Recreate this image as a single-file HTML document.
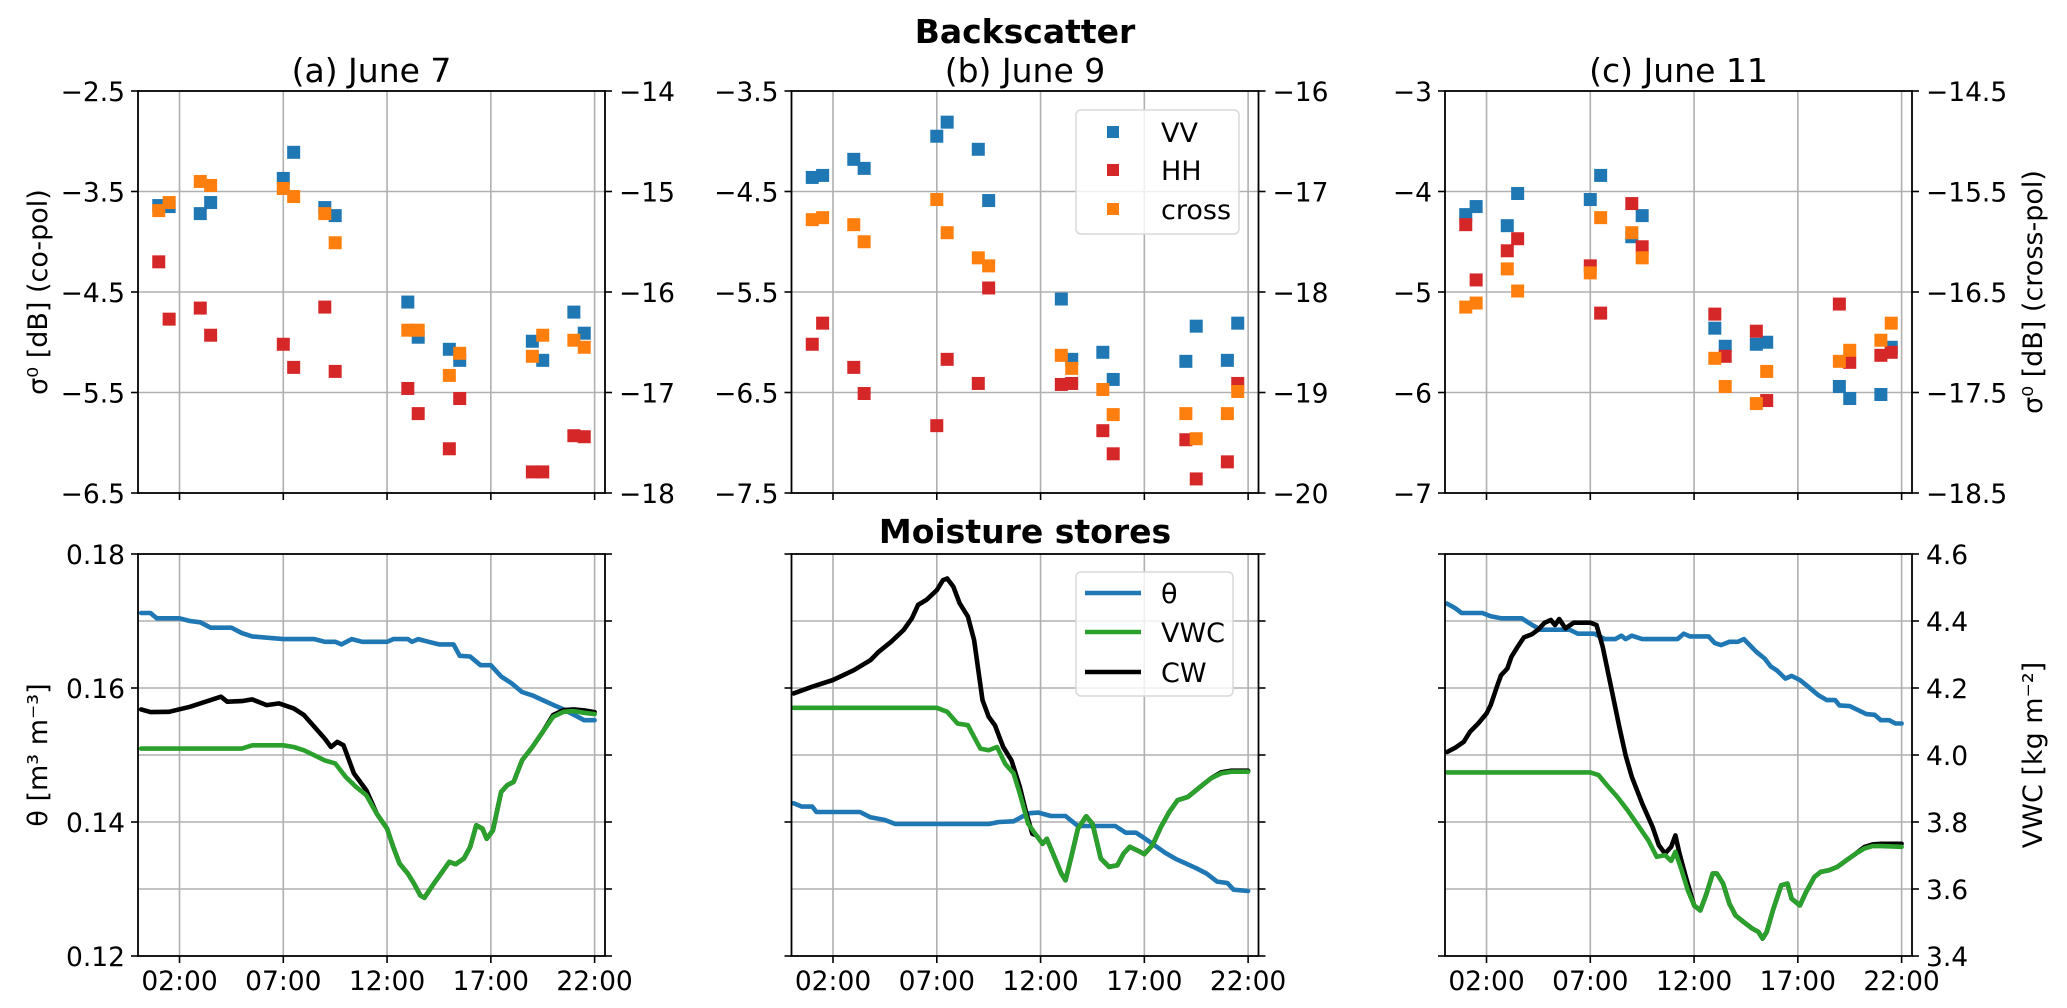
<!DOCTYPE html>
<html><head><meta charset="utf-8">
<style>
html,body{margin:0;padding:0;background:#fff;}
svg{display:block;font-family:"DejaVu Sans","Liberation Sans",sans-serif;}
</style></head>
<body>
<svg id="fig" width="2067" height="1008" viewBox="0 0 2067 1008" xmlns="http://www.w3.org/2000/svg">
<text x="1025" y="43" font-size="33" font-weight="bold" text-anchor="middle">Backscatter</text>
<text x="1025" y="543" font-size="33" font-weight="bold" text-anchor="middle">Moisture stores</text>
</svg>
<script>
// ---------- data ----------
const obsHours = [1,1.5,3,3.5,7,7.5,9,9.5,13,13.5,15,15.5,19,19.5,21,21.5];
const vvA = [-3.64,-3.65,-3.72,-3.61,-3.37,-3.11,-3.66,-3.74,-4.60,-4.95,-5.07,-5.18,-4.99,-5.18,-4.70,-4.91];
const hhA = [-4.20,-4.77,-4.66,-4.93,-5.02,-5.25,-4.65,-5.29,-5.46,-5.71,-6.06,-5.56,-6.29,-6.29,-5.93,-5.94];
const crossA = [-15.19,-15.11,-14.90,-14.94,-14.97,-15.05,-15.22,-15.51,-16.38,-16.38,-16.83,-16.61,-16.64,-16.43,-16.48,-16.55];
const vvB = [-4.36,-4.34,-4.18,-4.27,-3.95,-3.81,-4.08,-4.59,-5.57,-6.17,-6.10,-6.37,-6.19,-5.84,-6.18,-5.81];
const hhB = [-6.02,-5.81,-6.25,-6.51,-6.83,-6.17,-6.41,-5.46,-6.42,-6.41,-6.88,-7.11,-6.97,-7.36,-7.19,-6.41];
const crossB = [-17.28,-17.26,-17.33,-17.50,-17.08,-17.41,-17.66,-17.74,-18.63,-18.76,-18.97,-19.22,-19.21,-19.46,-19.21,-18.99];
const vvC = [-4.23,-4.15,-4.34,-4.02,-4.08,-3.84,-4.45,-4.24,-5.36,-5.54,-5.52,-5.50,-5.94,-6.06,-6.02,-5.55];
const hhC = [-4.33,-4.88,-4.59,-4.47,-4.74,-5.21,-4.12,-4.55,-5.22,-5.64,-5.39,-6.08,-5.12,-5.70,-5.63,-5.60];
const crossC = [-16.65,-16.61,-16.27,-16.49,-16.31,-15.76,-15.91,-16.16,-17.16,-17.44,-17.61,-17.29,-17.19,-17.08,-16.98,-16.81];

const thetaHoursA = [0.15,0.6,0.9,2,2.5,3,3.5,4.5,5,5.5,7,8.5,9,9.5,9.8,10.3,10.8,12,12.3,13,13.2,13.5,14,14.5,15.2,15.5,16,16.5,17,17.5,18,18.5,19,19.5,20,20.5,21,21.5,22];
const thetaA = [0.1712,0.1712,0.1704,0.1704,0.1700,0.1698,0.1690,0.1690,0.1682,0.1677,0.1673,0.1673,0.1669,0.1669,0.1665,0.1673,0.1669,0.1669,0.1673,0.1673,0.1669,0.1673,0.1669,0.1665,0.1665,0.1648,0.1647,0.1634,0.1634,0.1617,0.1607,0.1594,0.1589,0.1582,0.1575,0.1568,0.1560,0.1552,0.1552];
const vwcHoursA = [0.15,5,5.5,7,7.5,8,8.5,9,9.5,10,10.5,11,11.5,12,12.3,12.6,13,13.3,13.6,13.8,14.2,14.6,15,15.3,15.7,16,16.3,16.6,16.8,17.1,17.5,17.8,18.1,18.5,19,19.5,20,20.5,21,21.5,22];
const vwcA = [4.019,4.019,4.029,4.029,4.024,4.014,3.999,3.984,3.975,3.935,3.905,3.880,3.825,3.780,3.725,3.676,3.646,3.616,3.581,3.574,3.611,3.646,3.681,3.674,3.691,3.725,3.790,3.780,3.750,3.775,3.890,3.910,3.920,3.984,4.024,4.069,4.114,4.129,4.131,4.126,4.122];
const cwHoursA = [0.15,0.6,1.5,2.5,3.5,4,4.3,5,5.5,6.2,6.8,7.5,8,8.5,9,9.3,9.6,9.9,10.4,11,11.5,12,12.3,12.6,13,13.3,13.6,13.8,14.2,14.6,15,15.3,15.7,16,16.3,16.6,16.8,17.1,17.5,17.8,18.1,18.5,19,19.5,20,20.5,21,21.5,22];
const cwA = [4.136,4.128,4.129,4.144,4.164,4.174,4.159,4.161,4.166,4.149,4.154,4.139,4.119,4.084,4.049,4.024,4.039,4.029,3.945,3.895,3.825,3.780,3.725,3.676,3.646,3.616,3.581,3.574,3.611,3.646,3.681,3.674,3.691,3.725,3.790,3.780,3.750,3.775,3.890,3.910,3.920,3.984,4.024,4.069,4.119,4.134,4.136,4.133,4.128];

const thetaHoursB = [0.1,0.5,1,1.2,3.3,3.8,4.5,5,9.5,10,10.7,11,11.4,11.9,12.5,13.2,13.8,15.6,16.1,16.6,17,17.5,18,18.5,19,19.5,20,20.5,21,21.3,22];
const thetaB = [0.1428,0.1423,0.1423,0.1415,0.1415,0.1407,0.1403,0.1397,0.1397,0.1400,0.1401,0.1406,0.1413,0.1414,0.1409,0.1409,0.1394,0.1394,0.1384,0.1384,0.1376,0.1365,0.1354,0.1345,0.1338,0.1331,0.1323,0.1311,0.1309,0.1299,0.1297];
const vwcHoursB = [0.1,7,7.5,8,8.5,8.8,9.1,9.5,9.9,10.3,10.7,11,11.4,11.8,12.1,12.3,12.6,13,13.2,13.5,13.8,14.2,14.5,14.9,15.3,15.7,16,16.3,16.8,17,17.4,17.8,18.2,18.6,19.1,19.4,19.8,20.2,20.7,21.2,22];
const vwcB = [4.141,4.141,4.129,4.094,4.089,4.054,4.019,4.014,4.024,3.973,3.945,3.885,3.795,3.760,3.735,3.750,3.706,3.646,3.626,3.701,3.780,3.817,3.795,3.691,3.666,3.671,3.706,3.726,3.711,3.704,3.731,3.785,3.830,3.865,3.875,3.890,3.910,3.930,3.945,3.950,3.950];
const cwHoursB = [0.1,1,2,3,3.8,4.2,4.8,5.4,5.8,6.1,6.5,7,7.3,7.5,7.8,8.1,8.5,8.8,9.2,9.5,9.8,10.2,10.6,11,11.3,11.6,11.8,12.1,12.3,12.6,13,13.2,13.5,13.8,14.2,14.5,14.9,15.3,15.7,16,16.3,16.8,17,17.4,17.8,18.2,18.6,19.1,19.4,19.8,20.2,20.7,21.2,22];
const cwB = [4.184,4.204,4.224,4.253,4.283,4.308,4.338,4.373,4.408,4.448,4.463,4.492,4.522,4.527,4.502,4.453,4.413,4.343,4.164,4.114,4.089,4.024,3.984,3.905,3.830,3.765,3.760,3.735,3.750,3.706,3.646,3.626,3.701,3.780,3.817,3.795,3.691,3.666,3.671,3.706,3.726,3.711,3.704,3.731,3.785,3.830,3.865,3.875,3.890,3.910,3.930,3.948,3.953,3.953];

const thetaHoursC = [0.1,0.5,0.8,1.8,2.2,2.7,3.7,4.2,4.6,6,6.4,7.2,7.7,8.2,8.5,8.7,9,9.5,11.2,11.5,11.8,12.7,13,13.3,13.7,14.1,14.4,15,15.4,15.7,16,16.4,16.7,17.1,17.5,18,18.4,18.8,19,19.5,19.9,20.3,20.7,21,21.4,21.7,22];
const thetaC = [0.1726,0.1719,0.1712,0.1712,0.1707,0.1704,0.1704,0.1694,0.1687,0.1687,0.1681,0.1681,0.1673,0.1673,0.1678,0.1673,0.1678,0.1673,0.1673,0.1681,0.1677,0.1677,0.1667,0.1664,0.1669,0.1669,0.1673,0.1654,0.1644,0.1632,0.1626,0.1614,0.1618,0.1612,0.1602,0.1589,0.1582,0.1582,0.1574,0.1573,0.1567,0.1561,0.1560,0.1552,0.1552,0.1547,0.1547];
const vwcHoursC = [0.1,7,7.4,7.8,8.3,8.8,9.3,9.8,10.2,10.6,10.9,11.1,11.4,11.7,12,12.3,12.6,12.9,13.1,13.4,13.7,14,14.4,14.8,15.1,15.3,15.5,15.8,16.2,16.5,16.7,17.1,17.4,17.8,18.1,18.5,18.9,19.3,19.8,20.2,20.6,21,22];
const vwcC = [3.948,3.948,3.940,3.910,3.875,3.835,3.790,3.745,3.696,3.701,3.684,3.711,3.656,3.596,3.551,3.536,3.586,3.646,3.646,3.616,3.556,3.521,3.501,3.482,3.472,3.452,3.472,3.536,3.611,3.616,3.571,3.551,3.591,3.636,3.651,3.656,3.666,3.684,3.706,3.721,3.728,3.728,3.726];
const cwHoursC = [0.1,0.5,0.9,1.2,1.6,2,2.2,2.5,2.7,3,3.2,3.5,3.8,4.2,4.5,4.8,5.1,5.3,5.5,5.8,6.2,7,7.3,7.6,8,8.4,8.7,9,9.5,10,10.3,10.6,10.9,11.1,11.3,11.6,12,12.3,12.6,12.9,13.1,13.4,13.7,14,14.4,14.8,15.1,15.3,15.5,15.8,16.2,16.5,16.7,17.1,17.4,17.8,18.1,18.5,18.9,19.3,19.8,20.2,20.6,21,22];
const cwC = [4.009,4.022,4.039,4.069,4.094,4.124,4.149,4.204,4.238,4.258,4.293,4.323,4.351,4.361,4.375,4.395,4.403,4.388,4.406,4.378,4.395,4.395,4.388,4.323,4.204,4.084,3.999,3.935,3.855,3.785,3.731,3.706,3.726,3.760,3.706,3.636,3.551,3.536,3.586,3.646,3.646,3.616,3.556,3.521,3.501,3.482,3.472,3.452,3.472,3.536,3.611,3.616,3.571,3.551,3.591,3.636,3.651,3.656,3.666,3.684,3.706,3.725,3.733,3.735,3.735];

const xTickHours = [2,7,12,17,22];
const xTickLabels = ["02:00","07:00","12:00","17:00","22:00"];
const coTicksA = [-2.5,-3.5,-4.5,-5.5,-6.5];
const crossTicksA = [-14,-15,-16,-17,-18];
const coTicksB = [-3.5,-4.5,-5.5,-6.5,-7.5];
const crossTicksB = [-16,-17,-18,-19,-20];
const coTicksC = [-3,-4,-5,-6,-7];
const crossTicksC = [-14.5,-15.5,-16.5,-17.5,-18.5];
const thetaTicks = [0.18,0.16,0.14,0.12];
const vwcTicks = [4.6,4.4,4.2,4.0,3.8,3.6,3.4];

// ---------- drawing ----------
const NS = "http://www.w3.org/2000/svg";
const svg = document.getElementById('fig');
const C = {vv:'#1f77b4', hh:'#d62728', cross:'#ff7f0e', theta:'#1f77b4', vwc:'#2ca02c', cw:'#000000'};
const PW = 467, XMAX = 22.5, TF = 26.5;
const topY0 = 91, topY1 = 493, botY0 = 554, botY1 = 956;
const lefts = [138, 791.5, 1445];

function mk(tag, attrs, parent){
  const e = document.createElementNS(NS, tag);
  for (const k in attrs) e.setAttribute(k, attrs[k]);
  (parent || svg).appendChild(e);
  return e;
}
function fmt(v, dec){ const s = Math.abs(v).toFixed(dec); return (v < 0 ? '\u2212' : '') + s; }
function decs(arr){ return arr.some(v => Math.abs(v*10 - Math.round(v*10)) > 1e-6) ? 2 : (arr.some(v => v % 1 !== 0) ? 1 : 0); }

function panel(i, top, y0, y1, lim, rlim, lticks, rticks, showL, showR, showX, name){
  const L = lefts[i], R = L + PW;
  const sx = h => L + h / XMAX * PW;
  const syL = v => y0 + (lim[1] - v) / (lim[1] - lim[0]) * (y1 - y0);
  const syR = v => y0 + (rlim[1] - v) / (rlim[1] - rlim[0]) * (y1 - y0);
  const g = mk('g', {});
  
  
  const clipId = 'clip-' + name;
  const cp = mk('clipPath', {id: clipId}, g);
  mk('rect', {x: L, y: y0, width: PW, height: y1 - y0}, cp);
  xTickHours.forEach(h => {
    const l = mk('line', {x1: sx(h), x2: sx(h), y1: y0, y2: y1, stroke: '#b0b0b0', 'stroke-width': 1.6}, g);
    
    
  });
  rticks.forEach(v => {
    const y = syR(v);
    if (Math.abs(y - y0) < 1 || Math.abs(y - y1) < 1) return;
    const l = mk('line', {x1: L, x2: R, y1: y, y2: y, stroke: '#b0b0b0', 'stroke-width': 1.6}, g);
    
    
  });
  const dl = decs(lticks), dr = decs(rticks);
  lticks.forEach(v => {
    const y = syL(v);
    mk('line', {x1: L - 7, x2: L, y1: y, y2: y, stroke: '#000', 'stroke-width': 1.6}, g);
    if (showL) {
      const t = mk('text', {x: L - 13, y: y + 10, 'font-size': TF, 'text-anchor': 'end'}, g);
      t.textContent = fmt(v, dl);
      
      
    }
  });
  rticks.forEach(v => {
    const y = syR(v);
    mk('line', {x1: R, x2: R + 7, y1: y, y2: y, stroke: '#000', 'stroke-width': 1.6}, g);
    if (showR) {
      const t = mk('text', {x: R + 14, y: y + 10, 'font-size': TF, 'text-anchor': 'start'}, g);
      t.textContent = fmt(v, dr);
      
      
    }
  });
  xTickHours.forEach((h, k) => {
    mk('line', {x1: sx(h), x2: sx(h), y1: y1, y2: y1 + 7, stroke: '#000', 'stroke-width': 1.6}, g);
    if (showX) {
      const t = mk('text', {x: sx(h), y: 990, 'font-size': TF, 'text-anchor': 'middle'}, g);
      t.textContent = xTickLabels[k];
      
      
    }
  });
  const plot = mk('g', {'clip-path': 'url(#' + clipId + ')'}, g);
  return {g, plot, sx, syL, syR, L, R};
}

function drawSquares(p, hours, vals, sy, color, name){
  const n = Math.min(hours.length, vals.length);
  for (let k = 0; k < n; k++) {
    const r = mk('rect', {x: p.sx(hours[k]) - 6.5, y: sy(vals[k]) - 6.5, width: 13, height: 13, fill: color}, p.plot);
    
    
  }
}
function drawLine(p, hours, vals, sy, color, name){
  const n = Math.min(hours.length, vals.length);
  let d = '';
  for (let k = 0; k < n; k++) d += (k ? 'L' : 'M') + p.sx(hours[k]).toFixed(1) + ',' + sy(vals[k]).toFixed(1);
  const l = mk('path', {d, fill: 'none', stroke: color, 'stroke-width': 4.6, 'stroke-linejoin': 'round', 'stroke-linecap': 'round'}, p.plot);
  
  
}
function spines(p, y0, y1){
  const r = mk('rect', {x: p.L, y: y0, width: PW, height: y1 - y0, fill: 'none', stroke: '#000', 'stroke-width': 1.8}, p.g);
  
  
}

const topSets = [
  [vvA, hhA, crossA, [-6.5,-2.5], [-18,-14], coTicksA, crossTicksA, '(a) June 7'],
  [vvB, hhB, crossB, [-7.5,-3.5], [-20,-16], coTicksB, crossTicksB, '(b) June 9'],
  [vvC, hhC, crossC, [-7,-3], [-18.5,-14.5], coTicksC, crossTicksC, '(c) June 11']
];
topSets.forEach((s, i) => {
  const p = panel(i, true, topY0, topY1, s[3], s[4], s[5], s[6], true, true, false, 'backscatter-panel-' + 'abc'[i]);
  drawSquares(p, obsHours, s[0], p.syL, C.vv, 'vv');
  drawSquares(p, obsHours, s[1], p.syL, C.hh, 'hh');
  drawSquares(p, obsHours, s[2], p.syR, C.cross, 'cross');
  spines(p, topY0, topY1);
  const t = mk('text', {x: p.L + PW/2, y: 82, 'font-size': 33, 'text-anchor': 'middle'});
  t.textContent = s[7];
  
  
});

const botSets = [
  [thetaHoursA, thetaA, vwcHoursA, vwcA, cwHoursA, cwA],
  [thetaHoursB, thetaB, vwcHoursB, vwcB, cwHoursB, cwB],
  [thetaHoursC, thetaC, vwcHoursC, vwcC, cwHoursC, cwC]
];
botSets.forEach((s, i) => {
  const p = panel(i, false, botY0, botY1, [0.12,0.18], [3.4,4.6], thetaTicks, vwcTicks, i === 0, i === 2, true, 'moisture-panel-' + 'abc'[i]);
  drawLine(p, s[0], s[1], p.syL, C.theta, 'theta-line');
  drawLine(p, s[4], s[5], p.syR, C.cw, 'cw-line');
  drawLine(p, s[2], s[3], p.syR, C.vwc, 'vwc-line');
  spines(p, botY0, botY1);
});

function legendBox(x, y, w, h, name){
  const r = mk('rect', {x, y, width: w, height: h, rx: 5, fill: '#fff', 'fill-opacity': 0.8, stroke: '#d9d9d9', 'stroke-width': 1.5});
  
  
}
legendBox(1076, 110, 163, 124, 'backscatter-legend');
[['VV', C.vv, 132], ['HH', C.hh, 170], ['cross', C.cross, 209]].forEach(e => {
  const r = mk('rect', {x: 1107, y: e[2] - 6, width: 12, height: 12, fill: e[1]});
  
  
  const t = mk('text', {x: 1161, y: e[2] + 10, 'font-size': 27});
  t.textContent = e[0];
  
  
});
legendBox(1076, 572, 157, 124, 'moisture-legend');
[['\u03b8', C.theta, 593, 'theta'], ['VWC', C.vwc, 632, 'vwc'], ['CW', C.cw, 672, 'cw']].forEach(e => {
  const l = mk('line', {x1: 1085, x2: 1141, y1: e[2], y2: e[2], stroke: e[1], 'stroke-width': 4.6});
  
  
  const t = mk('text', {x: 1161, y: e[2] + 10, 'font-size': 27});
  t.textContent = e[0];
  
  
});

function vlabel(x, y, txt, name){
  const t = mk('text', {x, y, 'font-size': 27, 'text-anchor': 'middle', transform: 'rotate(-90 ' + x + ' ' + y + ')'});
  t.textContent = txt;
  
  
}
vlabel(47, 292, '\u03c3\u2070 [dB] (co-pol)', 'y-axis-title-co-pol');
vlabel(47, 755, '\u03b8 [m\u00b3 m\u207b\u00b3]', 'y-axis-title-theta');
vlabel(2042, 292, '\u03c3\u2070 [dB] (cross-pol)', 'y-axis-title-cross-pol');
vlabel(2042, 755, 'VWC [kg m\u207b\u00b2]', 'y-axis-title-vwc');
</script>
</body></html>
